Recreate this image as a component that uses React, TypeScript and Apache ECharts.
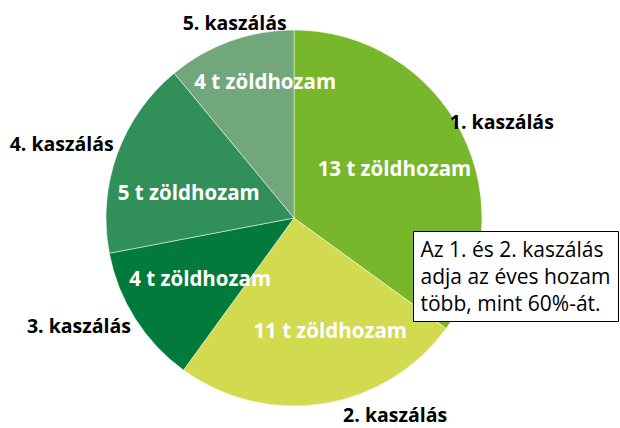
import React, { useEffect, useRef } from "react";
import * as echarts from "echarts";

const categories = ["1. kaszálás", "2. kaszálás", "3. kaszálás", "4. kaszálás", "5. kaszálás"];
const shares = [35, 25, 12, 17, 11];
const yieldLabels = ["13 t zöldhozam", "11 t zöldhozam", "4 t zöldhozam", "5 t zöldhozam", "4 t zöldhozam"];
const colors = ["#78B72B", "#D2DA4F", "#017A3C", "#318F5A", "#72A77B"];
const noteLines = ["Az 1. és 2. kaszálás", "adja az éves hozam", "több, mint 60%-át."];

const innerOffsets = [
  [14, -6],
  [21, 16],
  [-12, 8],
  [-14, 7],
  [4, -46],
];
const outerOffsets = [
  [2, 8],
  [65, -32],
  [-20, -16],
  [-15, 4],
  [19, 22],
];

const FONT = "Open Sans";

export default function App() {
  const ref = useRef<HTMLDivElement>(null);
  useEffect(() => {
    document.body.style.margin = "0";
    const chart = echarts.init(ref.current!, null, { renderer: "svg" });
    const center = [294, 218];
    chart.setOption({
      animation: false,
      backgroundColor: "#ffffff",
      series: [
        {
          type: "pie",
          center,
          radius: [0, 188],
          startAngle: 90,
          clockwise: true,
          silent: true,
          z: 1,
          itemStyle: { borderColor: "#ffffff", borderWidth: 0.5 },
          label: {
            show: true,
            position: "inside",
            color: "#ffffff",
            fontFamily: FONT,
            fontWeight: "bold",
            fontSize: 20.5,
            formatter: (p: any) => yieldLabels[p.dataIndex],
          },
          labelLine: { show: false },
          labelLayout: (p: any) => ({ dx: innerOffsets[p.dataIndex][0], dy: innerOffsets[p.dataIndex][1] }),
          emphasis: { disabled: true },
          data: categories.map((c, i) => ({ name: c, value: shares[i], itemStyle: { color: colors[i] } })),
        },
        {
          type: "pie",
          center,
          radius: [188, 268],
          startAngle: 90,
          clockwise: true,
          silent: true,
          z: 1,
          itemStyle: { color: "transparent" },
          label: {
            show: true,
            position: "inside",
            color: "#000000",
            fontFamily: FONT,
            fontWeight: "bold",
            fontSize: 19.5,
            formatter: (p: any) => categories[p.dataIndex],
          },
          labelLine: { show: false },
          labelLayout: (p: any) => ({ dx: outerOffsets[p.dataIndex][0], dy: outerOffsets[p.dataIndex][1] }),
          emphasis: { disabled: true },
          data: categories.map((c, i) => ({ name: c, value: shares[i] })),
        },
      ],
      graphic: [
        {
          type: "group",
          left: 413,
          top: 231,
          z: 100,
          children: [
            {
              type: "rect",
              z: 100,
              shape: { x: 0, y: 0, width: 205, height: 90 },
              style: { fill: "#ffffff", stroke: "#000000", lineWidth: 1 },
            },
            {
              type: "text",
              z: 101,
              x: 7,
              y: 4,
              style: {
                text: noteLines.join("\n"),
                fill: "#000000",
                fontFamily: FONT,
                fontSize: 21,
                lineHeight: 27,
              },
            },
          ],
        },
      ],
    });
    return () => chart.dispose();
  }, []);
  return <div ref={ref} style={{ width: 620, height: 428 }} />;
}
